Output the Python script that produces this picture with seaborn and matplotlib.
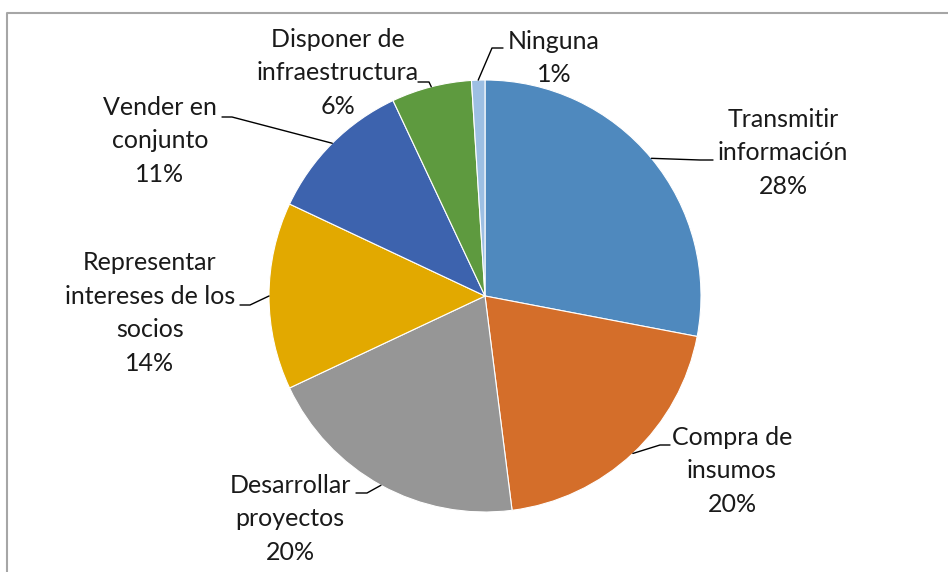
import numpy as np
import matplotlib
matplotlib.use("Agg")
import matplotlib.pyplot as plt
import seaborn as sns

# data
categories = ["Transmitir información", "Compra de insumos", "Desarrollar proyectos",
              "Representar intereses de los socios", "Vender en conjunto",
              "Disponer de infraestructura", "Ninguna"]
label_lines = ["Transmitir\ninformación", "Compra de\ninsumos", "Desarrollar\nproyectos",
               "Representar\nintereses de los\nsocios", "Vender en\nconjunto",
               "Disponer de\ninfraestructura", "Ninguna"]
shares = [28, 20, 20, 14, 11, 6, 1]
colors = ["#4F89BE", "#D46E2A", "#969696", "#E2A900", "#3D63AE", "#5E9A3F", "#9DBFE3"]

sns.set_theme(style="white")
plt.rcParams["font.family"] = ["Lato", "DejaVu Sans"]

W, H = 948, 572
fig = plt.figure(figsize=(W / 100, H / 100), dpi=100)
ax = fig.add_axes([0, 0, 1, 1])

cx, cy, r = 485, H - 296, 216
wedges, _ = ax.pie(shares, colors=colors, startangle=90, counterclock=False,
                   center=(cx, cy), radius=r, frame=True,
                   wedgeprops=dict(linewidth=0.8, edgecolor="white"))
ax.set_xlim(0, W)
ax.set_ylim(0, H)
ax.set_aspect("equal")
ax.axis("off")

# chart frame (only top and left edges visible)
ax.plot([7, 7, W + 5], [-5, H - 13, H - 13], color="#A6A6A6", lw=1.5, clip_on=False)

# label layout: text block centre, elbow point, end of leader (pixel coords, y from top)
text_pos = [(783, 153), (732, 471), (290, 519), (150, 313), (160, 141), (338, 73), (554, 58)]
elbows = [(700, 160), (660, 445), (367, 493), (250, 305), (232, 117), (429, 82), (492, 48)]
ends = [(713, 160), (670, 445), (356, 493), (240, 305), (222, 117), (418, 82), (503, 48)]

for w, lab, v, tp, el, en in zip(wedges, label_lines, shares, text_pos, elbows, ends):
    ang = np.deg2rad((w.theta1 + w.theta2) / 2)
    ax0, ay0 = cx + r * np.cos(ang), cy + r * np.sin(ang)
    ax.plot([ax0, el[0], en[0]], [ay0, H - el[1], H - en[1]], color="black", lw=1)
    ax.text(tp[0], H - tp[1], f"{lab}\n{v}%", ha="center", va="center",
            fontsize=18, color="#1a1a1a", linespacing=1.55)

fig.savefig("out.png", dpi=100)
